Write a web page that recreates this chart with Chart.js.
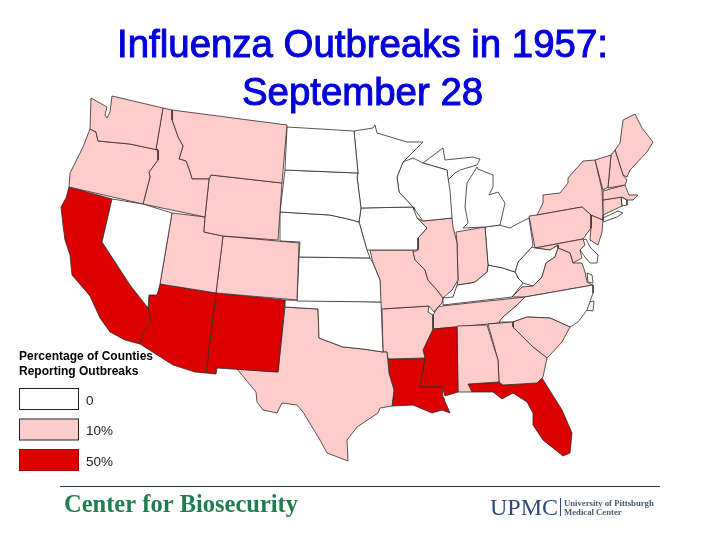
<!DOCTYPE html>
<html>
<head>
<meta charset="utf-8">
<title>Influenza Outbreaks in 1957: September 28</title>
<script src="https://cdn.jsdelivr.net/npm/chart.js@4"></script>
<style>
  body { margin: 0; background: #fff; }
  canvas { display: block; }
</style>
</head>
<body>
<canvas id="map" width="720" height="540"></canvas>
<script>
const WA = [91,98, 107,107, 105,115, 107,118, 110,112, 112,96, 163,108, 156,149, 158,150, 130,144, 98,141, 96,132, 90,129];
const OR = [90,129, 96,132, 98,141, 130,144, 158,150, 158,160, 149,172, 150,177, 143,204, 69,187, 70,173, 83,147];
const ID = [163,108, 172,110, 172,120, 178,137, 183,146, 179,159, 186,161, 190,172, 192,179, 209,179, 205,217, 143,204, 150,177, 149,172, 158,160, 158,150, 156,149];
const MT = [172,110, 287,125, 282,183, 211,175, 209,179, 192,179, 190,172, 186,161, 179,159, 183,146, 178,137, 172,120];
const WY = [211,175, 282,183, 278,240, 223,236, 204,232, 205,217, 209,179];
const NV = [112,199, 143,204, 172,213, 160,284, 157,295, 149,295, 148,308, 130,285, 102,242];
const CA = [69,187, 112,199, 102,242, 130,285, 148,308, 151,322, 143,333, 140,344, 125,340, 110,332, 100,318, 90,296, 72,275, 70,255, 65,240, 63,225, 61,207, 66,198];
const UT = [172,213, 205,217, 204,232, 223,236, 216,293, 160,284];
const CO = [223,236, 299,243, 297,300, 216,293];
const AZ = [160,284, 216,293, 206,373, 195,372, 173,365, 140,344, 143,333, 151,322, 148,308, 149,295, 157,295];
const NM = [216,293, 285,300, 278,372, 217,368, 216,374, 206,373];
const ND = [287,127, 354,131, 358,173, 285,170];
const SD = [285,170, 358,173, 357,177, 361,208, 359,222, 348,219, 330,215, 280,212];
const NE = [280,212, 330,215, 348,219, 359,222, 367,250, 370,258, 299,257, 300,242, 280,241];
const KS = [299,257, 370,258, 373,263, 380,280, 381,302, 297,301];
const OK = [285,300, 381,302, 383,352, 363,349, 343,347, 319,338, 318,309, 285,307];
const TX = [285,307, 318,309, 319,338, 343,347, 363,349, 383,352, 387,352, 389,373, 394,390, 392,406, 380,408, 378,413, 357,427, 347,440, 348,461, 327,453, 320,440, 303,412, 297,405, 282,403, 277,413, 263,410, 257,402, 256,392, 237,369, 278,372];
const MN = [354,131, 373,128, 375,125, 377,133, 407,142, 423,142, 403,162, 397,177, 399,192, 413,207, 361,208, 357,177, 358,173];
const IA = [361,208, 413,207, 414,210, 417,218, 427,228, 418,238, 418,250, 367,250, 359,222];
const WI = [403,162, 413,158, 423,163, 447,170, 448,178, 450,190, 452,218, 423,221, 413,207, 399,192, 397,177];
const MIU = [423,163, 443,148, 445,160, 473,157, 480,159, 477,165, 460,170, 455,173, 448,180, 447,170];
const MIL = [477,167, 467,183, 465,207, 468,223, 463,228, 485,227, 500,225, 505,203, 498,192, 489,195, 493,187, 493,175, 478,169];
const IL = [423,221, 452,218, 453,227, 457,243, 458,280, 452,290, 443,298, 437,290, 428,280, 425,270, 415,260, 413,252, 418,250, 418,238, 427,228, 417,218];
const IN = [456,232, 485,227, 488,265, 487,272, 475,282, 470,283, 457,285, 458,280, 457,243];
const OH = [485,227, 499,225, 510,228, 519,223, 529,218, 533,245, 532,247, 518,262, 515,272, 503,268, 488,265];
const KY = [443,298, 453,297, 457,285, 470,283, 475,282, 487,272, 488,265, 503,268, 515,272, 518,278, 523,283, 512,297, 443,305];
const MO = [370,250, 413,250, 415,260, 425,270, 428,280, 437,290, 443,298, 442,303, 438,307, 434,312, 429,306, 381,309, 380,302, 380,280, 373,263];
const AR = [381,309, 429,306, 428,312, 433,315, 433,329, 423,350, 425,358, 388,359, 387,352, 383,352, 382,310];
const LA = [388,359, 425,358, 420,387, 442,387, 443,397, 450,413, 442,410, 432,413, 413,405, 392,406, 394,390, 389,373];
const MS = [433,329, 457,327, 458,392, 445,396, 442,387, 420,387, 425,358, 423,350];
const AL = [457,326, 487,325, 498,360, 499,382, 468,384, 472,392, 463,392, 458,392];
const GA = [488,324, 513,322, 513,327, 533,347, 547,358, 543,377, 537,383, 503,385, 499,382, 498,360];
const FL = [468,384, 499,382, 503,385, 537,383, 542,378, 562,410, 572,433, 570,453, 563,456, 543,440, 533,425, 533,413, 527,402, 513,393, 502,399, 493,392, 472,392];
const SC = [513,322, 527,317, 550,318, 570,327, 562,342, 550,355, 547,358, 533,347, 513,327];
const NC = [525,297, 593,285, 593,293, 587,310, 578,322, 570,327, 550,318, 527,317, 513,322, 499,322, 503,317, 517,305];
const TN = [442,306, 525,297, 517,305, 503,317, 499,323, 433,329, 433,315, 438,307];
const VA = [512,297, 522,287, 533,286, 542,277, 546,263, 555,257, 558,248, 563,250, 570,253, 573,263, 582,263, 585,272, 587,282, 592,285, 593,285, 525,297];
const WV = [515,272, 518,262, 532,247, 535,248, 550,250, 558,245, 558,248, 555,257, 546,263, 542,277, 533,286, 523,283, 518,278];
const MD = [535,248, 583,239, 585,245, 580,250, 582,258, 573,263, 570,253, 563,250, 558,248, 558,245, 550,250];
const PA = [529,216, 537,215, 582,207, 591,215, 591,228, 583,239, 535,248];
const NY = [537,215, 543,203, 543,195, 560,193, 568,183, 568,178, 583,161, 595,160, 602,190, 603,215, 603,220, 591,215, 582,207];
const NJ = [591,215, 603,220, 602,232, 598,245, 590,240, 591,228];
const VT = [595,160, 611,155, 608,187, 603,190];
const NH = [611,155, 615,150, 623,175, 627,180, 625,185, 608,188];
const ME = [615,150, 620,143, 623,120, 635,114, 642,128, 653,142, 647,152, 630,170, 627,177, 623,175];
const MA = [603,191, 625,185, 629,195, 638,195, 633,200, 627,200, 622,197, 603,200];
const CT = [603,200, 621,197, 622,206, 603,215];
const RI = [621,197, 627,200, 627,205, 622,206];
const LI = [603,218, 618,211, 623,213, 617,217, 603,222];
const DE = [583,240, 586,239, 590,247, 598,255, 597,263, 590,263, 585,257, 580,250];
const VS = [587,273, 592,275, 593,283, 588,282];
const SALT = [183,218, 187,215, 191,222, 190,230, 185,231, 183,225];
const PONT = [435,397, 441,396, 445,399, 438,401];
const PAM = [585,303, 594,301, 593,311, 586,310];

const stateNames = ['WA','OR','ID','MT','WY','NV','CA','UT','CO','AZ','NM','ND','SD','NE','KS','OK','TX','MN','IA','WI','MI','MI','IL','IN','OH','KY','MO','AR','LA','MS','AL','GA','FL','SC','NC','TN','VA','WV','MD','PA','NY','NJ','VT','NH','ME','MA','CT','RI','NY','DE','VA','UT lake','LA lake','NC sound'];
const stateOutlines = [WA,OR,ID,MT,WY,NV,CA,UT,CO,AZ,NM,ND,SD,NE,KS,OK,TX,MN,IA,WI,MIU,MIL,IL,IN,OH,KY,MO,AR,LA,MS,AL,GA,FL,SC,NC,TN,VA,WV,MD,PA,NY,NJ,VT,NH,ME,MA,CT,RI,LI,DE,VS,SALT,PONT,PAM];
const stateLevels = [10,10,10,10,10,0,50,10,10,50,50,0,0,0,0,0,10,0,0,0,0,0,10,10,0,0,10,10,50,50,10,10,50,10,0,10,10,0,10,10,10,10,10,10,10,10,10,0,0,0,0,0,0,0];

const legendLevels = [0, 10, 50];
const legendLabels = ['0', '10%', '50%'];
const legendHeading = ['Percentage of Counties', 'Reporting Outbreaks'];
const titleLines = ['Influenza Outbreaks in 1957:', 'September 28'];

const levelColors = { 0: '#ffffff', 10: '#ffcccc', 50: '#dd0000' };

function toPoints(flat) {
    let pts = [];
    for (let i = 0; i < flat.length; i += 2) {
        pts.push({ x: flat[i], y: flat[i + 1] });
    }
    pts.push({ x: flat[0], y: flat[1] });
    return pts;
}

// slide furniture: title, legend box and footer are layout, not data
const slideText = {
    id: 'slideText',
    afterDraw(chart) {
        const ctx = chart.ctx;
        ctx.save();
        ctx.textBaseline = 'alphabetic';

        ctx.textAlign = 'center';
        ctx.fillStyle = '#0000dd';
        ctx.strokeStyle = '#0000dd';
        ctx.lineWidth = 1;
        ctx.font = '38.4px "Liberation Sans"';
        titleLines.forEach((t, i) => {
            ctx.fillText(t, 362.5, 57 + i * 48);
            ctx.strokeText(t, 362.5, 57 + i * 48);
        });

        ctx.textAlign = 'left';
        ctx.fillStyle = '#000';
        ctx.font = 'bold 12px "Liberation Sans"';
        legendHeading.forEach((t, i) => ctx.fillText(t, 19, 360 + i * 15));

        legendLevels.forEach((lv, i) => {
            const y = 388.5 + i * 30.5;
            ctx.fillStyle = levelColors[lv];
            ctx.fillRect(19.5, y, 59, 21);
            ctx.strokeStyle = lv === 50 ? '#a00000' : '#222';
            ctx.lineWidth = 1;
            ctx.strokeRect(19.5, y, 59, 21);
            ctx.fillStyle = '#222';
            ctx.font = '13.5px "Liberation Sans"';
            ctx.fillText(legendLabels[i], 86, y + 16);
        });

        ctx.strokeStyle = '#1c3f52';
        ctx.lineWidth = 1;
        ctx.beginPath();
        ctx.moveTo(60, 486.5);
        ctx.lineTo(660, 486.5);
        ctx.stroke();

        ctx.fillStyle = '#1f7d50';
        ctx.font = 'bold 24.5px "Liberation Serif"';
        ctx.fillText('Center for Biosecurity', 64, 512);

        ctx.fillStyle = '#2b4a78';
        ctx.font = '24px "Liberation Serif"';
        ctx.fillText('UPMC', 490, 515);
        ctx.fillRect(560, 498, 1, 18);
        ctx.font = 'bold 8.7px "Liberation Serif"';
        ctx.fillStyle = '#4a5a6a';
        ctx.fillText('University of Pittsburgh', 564, 506);
        ctx.fillText('Medical Center', 564, 515);
        ctx.restore();
    }
};

new Chart(document.getElementById('map').getContext('2d'), {
    type: 'scatter',
    data: {
        datasets: stateOutlines.map((outline, i) => ({
            label: stateNames[i],
            data: toPoints(outline),
            showLine: true,
            fill: 'shape',
            tension: 0,
            backgroundColor: levelColors[stateLevels[i]],
            borderColor: '#332a2a',
            borderWidth: 0.8,
            pointRadius: 0
        }))
    },
    options: {
        responsive: false,
        animation: false,
        devicePixelRatio: 1,
        layout: { padding: 0 },
        plugins: { legend: { display: false }, tooltip: { enabled: false } },
        scales: {
            x: { type: 'linear', min: 0, max: 720, display: false },
            y: { type: 'linear', min: 0, max: 540, reverse: true, display: false }
        }
    },
    plugins: [slideText]
});
</script>
</body>
</html>
